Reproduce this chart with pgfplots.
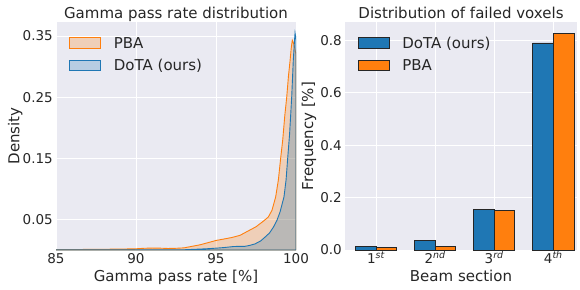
\documentclass[border=0pt]{standalone}
\usepackage{fontspec}
\setmainfont{DejaVu Sans}
\usepackage{pgfplots}
\pgfplotsset{compat=1.18}
\definecolor{bgc}{RGB}{234,234,242}
\definecolor{txt}{RGB}{38,38,38}
\definecolor{cb}{RGB}{31,119,180}
\definecolor{co}{RGB}{255,127,14}
\pgfplotsset{
  sns/.style={
    scale only axis,
    axis background/.style={fill=bgc},
    grid=major,
    major grid style={draw=white, line width=1pt},
    axis line style={draw=none},
    major tick length=0pt,
    tick style={draw=none},
    every tick label/.append style={font=\fontsize{13.5}{16}\selectfont, text=txt},
    xticklabel style={anchor=base, yshift=-13.5pt, inner sep=0pt},
    yticklabel style={anchor=east, xshift=-3pt, inner sep=0pt},
    label style={font=\fontsize{15}{18}\selectfont, text=txt},
    every axis title shift=0pt,
    title style={font=\fontsize{15}{18}\selectfont, text=txt, at={(axis description cs:0.5,1)}, anchor=base, yshift=3.7pt},
    xlabel style={at={(axis description cs:0.5,0)}, anchor=base, yshift=-31pt},
    legend style={draw=none, fill=none, inner sep=0pt, outer sep=0pt, anchor=north west,
      font=\fontsize{15}{18}\selectfont, text=txt, row sep=11.1pt,
      nodes={inner sep=0pt, text height=10.9pt, text depth=0pt},
      /tikz/every odd column/.append style={column sep=12.7pt}},
    legend cell align=left,
  }
}
\begin{document}
\begin{tikzpicture}
\path[use as bounding box] (0,0) rectangle (580pt,289pt);
\begin{axis}[sns,
  at={(56pt,39pt)}, anchor=south west, width=240pt, height=228pt,
  xmin=85, xmax=100, ymin=0, ymax=0.373,
  xtick={85,90,95,100}, xticklabels={85,90,95,100},
  ytick={0.05,0.15,0.25,0.35}, yticklabels={0.05,0.15,0.25,0.35},
  title={Gamma pass rate distribution},
  xlabel={Gamma pass rate [\%]},
  ylabel={Density},
  ylabel style={at={(axis description cs:-0.153,0.5)}, anchor=base},
  legend style={at={(axis description cs:0.0554,0.933)}},
  legend image code/.code={\draw[#1, line width=0.9pt] (0pt,-5.25pt) rectangle (31pt,5.25pt);},
]
\addplot[draw=co, fill=co, fill opacity=0.25, line width=0.9pt] coordinates {
(85,0.0005) (86,0.0007) (87,0.001) (88,0.0012) (89,0.0015) (90,0.002) (90.5,0.0028)
(91,0.0032) (91.5,0.003) (92,0.0025) (92.5,0.0028) (93,0.0035) (93.5,0.006) (94,0.0085)
(94.5,0.012) (95,0.0156) (95.5,0.018) (96,0.0205) (96.5,0.024) (97,0.031) (97.5,0.038)
(97.75,0.043) (98,0.048) (98.27,0.054) (98.5,0.065) (98.73,0.087) (98.9,0.115) (99.04,0.15)
(99.17,0.18) (99.3,0.22) (99.42,0.25) (99.53,0.285) (99.63,0.31) (99.7,0.33) (99.77,0.343)
(99.85,0.338) (99.92,0.33) (100,0.32)
} \closedcycle;
\addlegendentry{PBA}
\addplot[draw=cb, fill=cb, fill opacity=0.25, line width=0.9pt] coordinates {
(85,0.0003) (90,0.0003) (93,0.0004) (93.8,0.0013) (94.4,0.002) (95,0.003) (95.5,0.004)
(96.1,0.0057) (96.5,0.006) (96.8,0.006) (97.1,0.0075) (97.44,0.010) (97.8,0.015) (98.06,0.021)
(98.35,0.028) (98.58,0.037) (98.8,0.048) (99.0,0.062) (99.12,0.074) (99.25,0.087) (99.38,0.115)
(99.48,0.15) (99.6,0.19) (99.73,0.25) (99.83,0.31) (99.9,0.34) (99.94,0.355) (100,0.345)
} \closedcycle;
\addlegendentry{DoTA (ours)}
\end{axis}
\begin{axis}[sns,
  at={(345pt,39pt)}, anchor=south west, width=232pt, height=228pt,
  xmin=-0.5245, xmax=3.401, ymin=0, ymax=0.87,
  xtick={0,1,2,3},
  xticklabels={1\textsuperscript{\itshape st},2\textsuperscript{\itshape nd},3\textsuperscript{\itshape rd},4\textsuperscript{\itshape th}},
  ytick={0,0.2,0.4,0.6,0.8}, yticklabels={0.0,0.2,0.4,0.6,0.8},
  title={Distribution of failed voxels},
  xlabel={Beam section},
  ylabel={Frequency [\%]},
  ylabel style={at={(axis description cs:-0.137,0.5)}, anchor=base},
  legend style={at={(axis description cs:0.0547,0.933)}},
  legend image code/.code={\draw[#1] (0pt,-5.25pt) rectangle (31pt,5.25pt);},
]
\addplot[ybar, bar width=20.7pt, bar shift=-10.35pt, fill=cb, draw=black!85, line width=0.9pt] coordinates {
(0,0.015) (1,0.038) (2,0.154) (3,0.79)};
\addlegendentry{DoTA (ours)}
\addplot[ybar, bar width=20.7pt, bar shift=10.35pt, fill=co, draw=black!85, line width=0.9pt] coordinates {
(0,0.008) (1,0.0125) (2,0.150) (3,0.828)};
\addlegendentry{PBA}
\end{axis}
\end{tikzpicture}
\end{document}
